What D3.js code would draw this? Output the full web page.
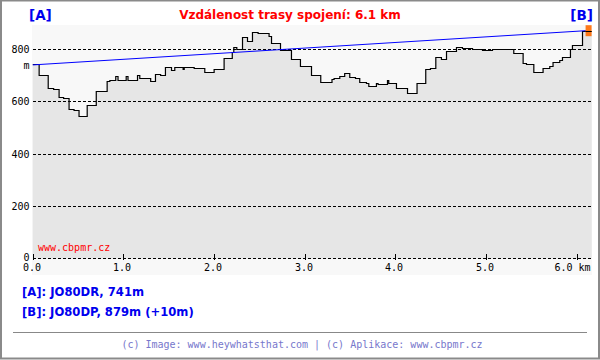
<!DOCTYPE html>
<html><head><meta charset="utf-8">
<script src="https://cdn.jsdelivr.net/npm/d3@7"></script>
<style>
html,body{margin:0;padding:0;background:#fff;}
svg{display:block;}
.mono{font-family:"DejaVu Sans Mono",monospace;font-size:10px;}
.bold{font-family:"DejaVu Sans",Verdana,sans-serif;font-weight:bold;font-size:11.6px;}
.title{font-family:"DejaVu Sans",Verdana,sans-serif;font-weight:bold;font-size:12px;}
.end{font-family:"DejaVu Sans",Verdana,sans-serif;font-weight:bold;font-size:13.5px;}
</style>
</head><body>
<svg id="c" width="600" height="360"></svg>
<script>
// ---- data ----
const distKm = [0.00,0.07,0.17,0.23,0.29,0.34,0.40,0.455,0.51,0.60,0.70,0.82,0.85,0.915,0.94,1.03,1.05,1.155,1.18,1.243,1.30,1.353,1.41,1.463,1.53,1.566,1.658,1.67,1.78,1.897,2.00,2.11,2.20,2.217,2.25,2.313,2.368,2.423,2.485,2.606,2.633,2.732,2.853,2.952,3.074,3.176,3.30,3.323,3.386,3.44,3.496,3.559,3.606,3.68,3.706,3.79,3.808,3.912,3.926,4.011,4.133,4.238,4.334,4.386,4.445,4.507,4.563,4.629,4.673,4.739,4.85,4.96,5.07,5.20,5.305,5.408,5.445,5.526,5.628,5.702,5.738,5.812,5.842,5.93,5.952,6.063,6.165];
const elevM  = [741,702,651,648,615,612,572,565,543,587,638,679,683,696,683,696,683,700,690,688,677,705,700,730,721,730,722,730,727,712,725,766,789,807,800,846,832,866,862,849,824,798,760,734,702,674,687,690,696,709,693,690,674,668,658,670,667,680,670,651,632,670,724,728,770,760,791,794,808,803,800,797,800,799,785,747,741,713,728,734,749,757,768,801,817,868,868];
const losKm = [0, 6.1];
const losM = [741, 872];
const yTicks = [0, 200, 400, 600, 800];
const xTicks = [0, 1, 2, 3, 4, 5, 6];
const xTickLabels = ["0.0","1.0","2.0","3.0","4.0","5.0","6.0 km"];
const titleText = "Vzdálenost trasy spojení: 6.1 km";
const stationA = "[A]: JO80DR, 741m";
const stationB = "[B]: JO80DP, 879m (+10m)";
const footerText = "(c) Image: www.heywhatsthat.com | (c) Aplikace: www.cbpmr.cz";
const watermark = "www.cbpmr.cz";
const markerKm = 6.13, markerM = 872;

// ---- layout ----
const svg = d3.select("#c");
const x = d3.scaleLinear().domain([0, 6]).range([32.8, 576.8]);
const y = d3.scaleLinear().domain([0, 800]).range([258.5, 49.5]);
const plotL = 32, plotR = 592, plotT = 25, plotB = 275;

// outer frame
svg.append("rect").attr("x",0).attr("y",0).attr("width",600).attr("height",360).attr("fill","#fff");
svg.append("rect").attr("x",1).attr("y",0.5).attr("width",598).attr("height",358)
  .attr("fill","none").attr("stroke","#8a8a8a").attr("stroke-width",2);

// plot background
svg.append("rect").attr("x",plotL).attr("y",plotT).attr("width",plotR-plotL).attr("height",plotB-plotT).attr("fill","#f8f8f8");

const pts = distKm.map((d,i)=>[d, elevM[i]]);
// terrain fill
svg.append("path").datum(pts)
  .attr("d", d3.area().curve(d3.curveStepAfter).x(d=>x(d[0])).y0(y(0)).y1(d=>y(d[1])))
  .attr("fill","#e6e6e6");

// grid lines
yTicks.forEach(t=>{
  const yy = Math.floor(y(t))+0.5;
  svg.append("line").attr("x1",33).attr("x2",591).attr("y1",yy).attr("y2",yy)
    .attr("stroke","#000").attr("stroke-width",1).attr("stroke-dasharray","3,2");
  svg.append("text").attr("class","mono").attr("x",29.5).attr("y",t===0 ? yy-1.5 : yy).attr("dy","0.35em")
    .attr("text-anchor","end").attr("fill","#000").text(t);
});
svg.append("text").attr("class","mono").attr("x",29.5).attr("y",Math.floor(y(800))+16.5).attr("dy","0.35em")
  .attr("text-anchor","end").attr("fill","#000").text("m");

// x ticks
xTicks.forEach((t,i)=>{
  const xx = Math.round(x(t))+0.5;
  svg.append("line").attr("x1",xx).attr("x2",xx).attr("y1",254).attr("y2",260).attr("stroke","#000");
  const last = i===xTicks.length-1;
  svg.append("text").attr("class","mono").attr("x", last ? xx-23 : xx-10.5).attr("y",271)
    .attr("fill","#000").text(xTickLabels[i]);
});

// terrain line
svg.append("path").datum(pts)
  .attr("d", d3.line().curve(d3.curveStepAfter).x(d=>x(d[0])).y(d=>Math.floor(y(d[1]))+0.5))
  .attr("fill","none").attr("stroke","#000").attr("stroke-width",1.2);

// LOS line
svg.append("path").datum(losKm.map((d,i)=>[d, losM[i]]))
  .attr("d", d3.line().x(d=>x(d[0])).y(d=>y(d[1])))
  .attr("fill","none").attr("stroke","#0000ff").attr("stroke-width",1);

// marker
svg.append("rect").attr("x",x(markerKm)-3).attr("y",y(markerM)-5.5).attr("width",6).attr("height",11)
  .attr("fill","#ff6a00").attr("opacity",0.9);
svg.append("line").attr("x1",x(markerKm)-3).attr("x2",x(markerKm)+3)
  .attr("y1",Math.floor(y(868))+0.5).attr("y2",Math.floor(y(868))+0.5).attr("stroke","#000");

// watermark
svg.append("text").attr("class","mono").attr("x",38).attr("y",251).attr("fill","#ff0000").text(watermark);

// title and labels
svg.append("text").attr("class","title").attr("x",290).attr("y",19).attr("text-anchor","middle")
  .attr("fill","#ff0000").text(titleText);
svg.append("text").attr("class","end").attr("x",29).attr("y",19.5).attr("fill","#0000ee").text("[A]");
svg.append("text").attr("class","end").attr("x",593).attr("y",19.5).attr("text-anchor","end").attr("fill","#0000ee").text("[B]");

svg.append("text").attr("class","bold").attr("x",22).attr("y",295.5).attr("fill","#0000ee").text(stationA);
svg.append("text").attr("class","bold").attr("x",22).attr("y",316).attr("fill","#0000ee").text(stationB);

svg.append("line").attr("x1",13).attr("x2",587).attr("y1",332.5).attr("y2",332.5).attr("stroke","#888").attr("stroke-width",1);
svg.append("text").attr("class","mono").attr("x",302).attr("y",347.5).attr("text-anchor","middle")
  .attr("fill","#7777cc").text(footerText);
</script>
</body></html>
